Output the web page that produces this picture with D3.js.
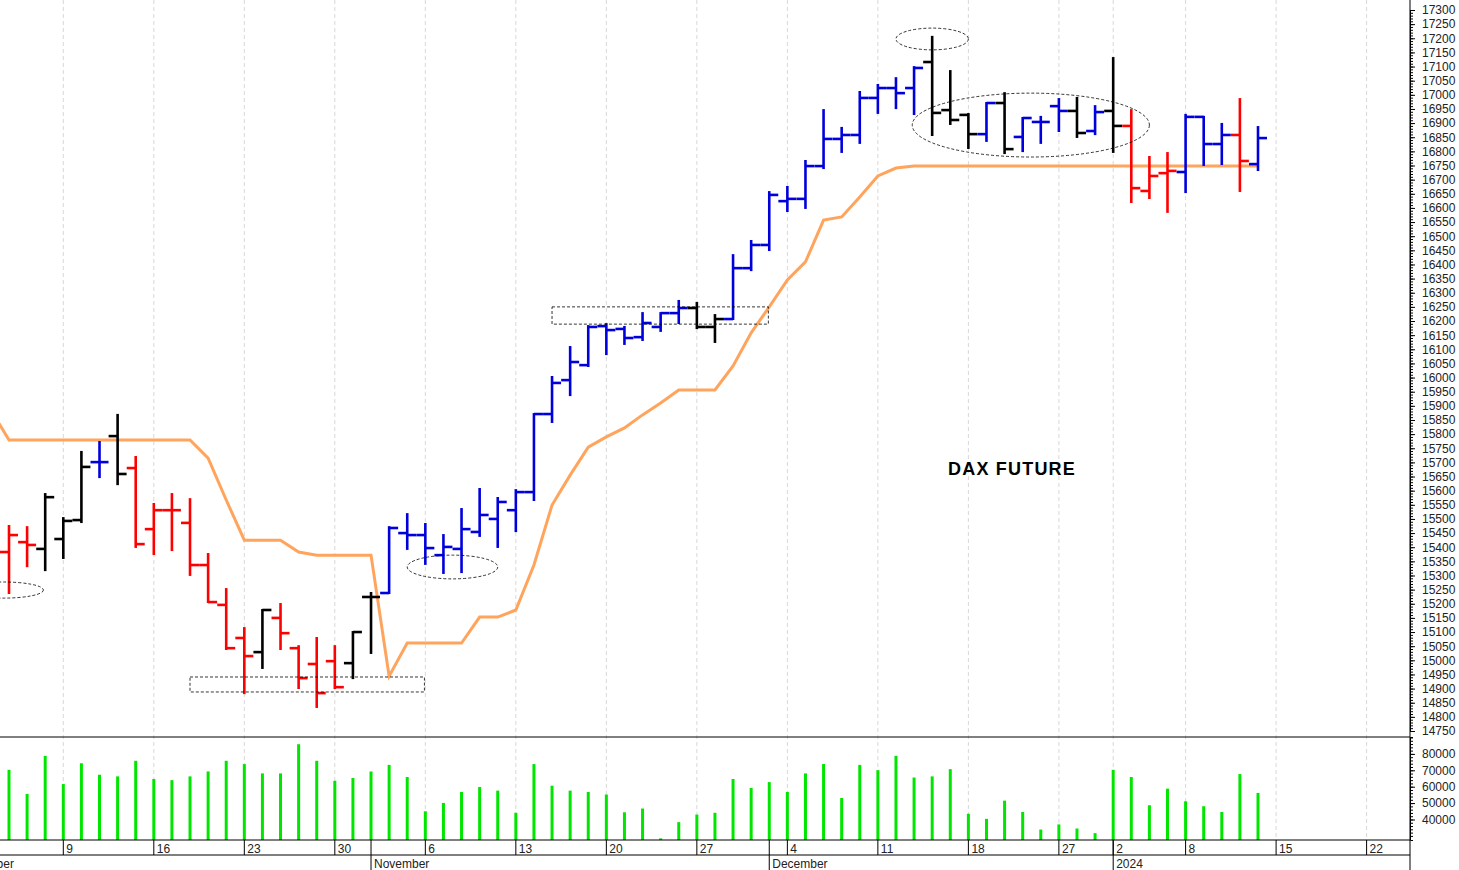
<!DOCTYPE html>
<html>
<head>
<meta charset="utf-8">
<script src="https://cdn.jsdelivr.net/npm/d3@7"></script>
<style>
  body { margin: 0; background: #fff; }
  text { font-family: "Liberation Sans", Arial, sans-serif; }
</style>
</head>
<body>
<svg id="chart" width="1459" height="870"></svg>
<script>
// trading days, Oct 4 2023 .. Jan 12 2024
const dates = ["2023-10-04","2023-10-05","2023-10-06","2023-10-09","2023-10-10","2023-10-11","2023-10-12","2023-10-13",
  "2023-10-16","2023-10-17","2023-10-18","2023-10-19","2023-10-20","2023-10-23","2023-10-24","2023-10-25","2023-10-26","2023-10-27",
  "2023-10-30","2023-10-31","2023-11-01","2023-11-02","2023-11-03","2023-11-06","2023-11-07","2023-11-08","2023-11-09","2023-11-10",
  "2023-11-13","2023-11-14","2023-11-15","2023-11-16","2023-11-17","2023-11-20","2023-11-21","2023-11-22","2023-11-23","2023-11-24",
  "2023-11-27","2023-11-28","2023-11-29","2023-11-30","2023-12-01","2023-12-04","2023-12-05","2023-12-06","2023-12-07","2023-12-08",
  "2023-12-11","2023-12-12","2023-12-13","2023-12-14","2023-12-15","2023-12-18","2023-12-19","2023-12-20","2023-12-21","2023-12-22",
  "2023-12-27","2023-12-28","2023-12-29","2024-01-02","2024-01-03","2024-01-04","2024-01-05","2024-01-08","2024-01-09","2024-01-10",
  "2024-01-11","2024-01-12"]
const open = [15383,15418,15394,15429,15496,15701,15793,15680,15464,15531,15486,15337,15196,15079,15029,15150,15043,14987,14997,14990,
  15224,15238,15450,15443,15372,15394,15454,15500,15531,15595,15871,15991,16044,16182,16172,16143,16179,16228,16246,16179,
  16207,16387,16469,16624,16632,16748,16844,16858,16989,17024,17024,17116,16946,16929,16861,16971,16851,16904,16960,16943,
  16872,16943,16890,16660,16723,16727,16922,16826,16858,16755]
const high = [15475,15471,15588,15503,15737,15772,15868,15719,15553,15588,15570,15376,15252,15114,15178,15199,15050,15079,15050,15100,
  15238,15471,15517,15482,15443,15535,15606,15574,15602,15871,16002,16108,16182,16189,16179,16228,16228,16271,16264,16221,
  16433,16483,16656,16674,16766,16946,16883,17010,17035,17059,17098,17205,17084,16932,16971,17006,16918,16922,16985,16989,
  16960,17130,16946,16780,16794,16929,16922,16897,16985,16886]
const low = [15238,15333,15319,15362,15489,15648,15623,15401,15376,15390,15302,15206,15040,14884,14973,15040,14902,14835,14902,14937,
  15026,15238,15394,15341,15309,15312,15440,15401,15457,15567,15843,15938,16041,16083,16119,16133,16165,16193,16175,16126,
  16207,16380,16451,16589,16600,16741,16798,16830,16936,16953,16932,16858,16897,16812,16837,16794,16801,16830,16872,16851,
  16861,16798,16621,16635,16586,16656,16752,16755,16660,16734]
const close = [15443,15408,15577,15493,15684,15701,15659,15411,15531,15531,15337,15206,15043,15015,15178,15096,14937,14884,14905,15100,
  15224,15468,15443,15397,15401,15464,15514,15560,15595,15871,15981,16055,16179,16168,16140,16193,16228,16246,16179,16207,
  16387,16469,16646,16632,16748,16844,16858,16989,17024,17006,17095,16936,16911,16861,16971,16808,16918,16904,16943,16865,
  16939,16890,16670,16713,16731,16922,16826,16858,16766,16847]
// bar colour state: r = red, b = blue, k = black
const signal = "rrkkkbkrrrrrrrkrrrrkkbbbbbbbbbbbbbbbbbkkbbbbbbbbbbbkkkbkbbbkbkrrrbbbrb".split("")
const stopPrev = 15885  // Oct 3, just left of the plot
const stop = [15779,15779,15779,15779,15779,15779,15779,15779,15779,15779,15779,15715,15567,15425,15425,15425,15383,15372,15372,15372,
  15372,14944,15061,15061,15061,15061,15153,15153,15178,15337,15549,15655,15754,15790,15822,15868,15910,15956,15956,15956,
  16041,16158,16250,16345,16409,16557,16568,16639,16713,16741,16748,16748,16748,16748,16748,16748,16748,16748,16748,16748,
  16748,16748,16748,16748,16748,16748,16748,16748,16748,16748]
const volume = [70300,55600,78800,61600,74300,67300,66300,75800,64700,64000,66300,69300,75800,73800,68100,68100,85900,75800,63600,65300,
  69300,73300,65900,45000,50100,56800,59800,57600,44100,73800,60600,57600,56800,55200,44400,46700,28500,38400,43000,44100,
  64700,59200,62800,56800,68100,73800,53100,73300,70100,78800,65600,66300,70700,43500,40400,51500,44600,33900,37000,34500,
  31700,70300,65900,48700,58800,51100,48100,44600,67700,56200]
// week ticks (bar index, 1-based) and labels
const weekIdx = [4,9,14,19,24,29,34,39,44,49,54,59,62,66,71,76]
const weekLab = ["9","16","23","30","6","13","20","27","4","11","18","27","2","8","15","22"]
const monthIdx = [-1.25,21,43,62]
const monthLab = ["October","November","December","2024"]
const priceTicks = d3.range(14750, 17301, 50)
const volTicks = [40000,50000,60000,70000,80000]
// annotations: bar-index span and price span
const ellipses = [[-1.5,2.9,15220,15277],[23,28,15288,15372],[50,54,17159,17236],[50.9,64,16780,17006]]
const boxes = [[11,23.95,14888,14941],[31,42.95,16189,16250]]

const svg = d3.select("#chart")
const W = 1410, priceBot = 737, volBot = 840
const x = d3.scaleLinear().domain([1, 70]).range([9, 1258])
const y = d3.scaleLinear().domain([14750, 17300]).range([731, 10])
const yv = d3.scaleLinear().domain([27500, 90300]).range([volBot, priceBot])
const colors = {r: "#ff0000", b: "#0000dd", k: "#000000"}

svg.append("defs").append("clipPath").attr("id", "plot")
  .append("rect").attr("width", W).attr("height", volBot)

// grid
svg.append("g").selectAll("line").data(weekIdx).join("line")
  .attr("x1", d => x(d)).attr("x2", d => x(d)).attr("y1", 0).attr("y2", volBot)
  .attr("stroke", "#d8d8d8").attr("stroke-dasharray", "4,3")

const plot = svg.append("g").attr("clip-path", "url(#plot)")

// stop line
const line = d3.line().x(d => x(d[0])).y(d => y(d[1]))
plot.append("path")
  .datum([[0, stopPrev]].concat(stop.map((s, i) => [i + 1, s])))
  .attr("d", line).attr("fill", "none").attr("stroke", "#ffa45c").attr("stroke-width", 3)

// OHLC bars
const bars = plot.append("g").selectAll("g").data(dates).join("g")
  .attr("stroke", (d, i) => colors[signal[i]]).attr("stroke-width", 2.6)
bars.append("line").attr("x1", (d, i) => x(i + 1)).attr("x2", (d, i) => x(i + 1))
  .attr("y1", (d, i) => y(high[i]) - 1).attr("y2", (d, i) => y(low[i]) + 1)
bars.append("line").attr("x1", (d, i) => x(i + 1) - 9).attr("x2", (d, i) => x(i + 1))
  .attr("y1", (d, i) => y(open[i])).attr("y2", (d, i) => y(open[i]))
bars.append("line").attr("x1", (d, i) => x(i + 1)).attr("x2", (d, i) => x(i + 1) + 9)
  .attr("y1", (d, i) => y(close[i])).attr("y2", (d, i) => y(close[i]))

// annotations
plot.append("g").selectAll("ellipse").data(ellipses).join("ellipse")
  .attr("cx", d => (x(d[0]) + x(d[1])) / 2).attr("cy", d => (y(d[2]) + y(d[3])) / 2)
  .attr("rx", d => (x(d[1]) - x(d[0])) / 2).attr("ry", d => (y(d[2]) - y(d[3])) / 2)
  .attr("fill", "none").attr("stroke", "#000").attr("stroke-width", 0.8).attr("stroke-dasharray", "3,2")
plot.append("g").selectAll("rect").data(boxes).join("rect")
  .attr("x", d => x(d[0])).attr("y", d => y(d[3]))
  .attr("width", d => x(d[1]) - x(d[0])).attr("height", d => y(d[2]) - y(d[3]))
  .attr("fill", "none").attr("stroke", "#000").attr("stroke-width", 0.8).attr("stroke-dasharray", "3,2")

svg.append("text").attr("x", 948).attr("y", 475).attr("font-size", 18).attr("font-weight", "bold")
  .attr("letter-spacing", 1.2).text("DAX FUTURE")

// volume
plot.append("g").selectAll("line").data(volume).join("line")
  .attr("x1", (d, i) => x(i + 1)).attr("x2", (d, i) => x(i + 1))
  .attr("y1", volBot).attr("y2", d => yv(d))
  .attr("stroke", "#00e600").attr("stroke-width", 3)

// pane borders
svg.append("line").attr("x1", 0).attr("x2", W).attr("y1", priceBot).attr("y2", priceBot).attr("stroke", "#000")
svg.append("line").attr("x1", 0).attr("x2", W).attr("y1", volBot).attr("y2", volBot).attr("stroke", "#000")
svg.append("line").attr("x1", 0).attr("x2", W).attr("y1", 855).attr("y2", 855).attr("stroke", "#000")
svg.append("line").attr("x1", W).attr("x2", W).attr("y1", 0).attr("y2", 870).attr("stroke", "#000")

// right axes
const pa = svg.append("g").attr("transform", `translate(${W},0)`)
  .call(d3.axisRight(y).tickValues(priceTicks).tickSize(5).tickFormat(d3.format("d")))
pa.append("g").call(d3.axisRight(y).tickValues(d3.range(14750, 17301, 10)).tickSize(3).tickFormat(""))
const va = svg.append("g").attr("transform", `translate(${W},0)`)
  .call(d3.axisRight(yv).tickValues(volTicks).tickSize(5).tickFormat(d3.format("d")))
va.append("g").call(d3.axisRight(yv).tickValues(d3.range(30000, 90001, 2000)).tickSize(3).tickFormat(""))
for (const g of [pa, va]) {
  g.select(".domain").remove()
  g.selectAll("text").attr("font-size", 12).attr("fill", "#222").attr("x", 12)
}

// date rows
const dr = svg.append("g")
dr.selectAll("line").data(weekIdx).join("line")
  .attr("x1", d => x(d)).attr("x2", d => x(d)).attr("y1", volBot).attr("y2", 855).attr("stroke", "#000")
dr.selectAll("text").data(weekIdx).join("text")
  .attr("x", d => x(d) + 3).attr("y", 853).attr("font-size", 12).attr("fill", "#222")
  .text((d, i) => weekLab[i])
const mr = svg.append("g")
mr.selectAll("line").data(monthIdx).join("line")
  .attr("x1", d => x(d)).attr("x2", d => x(d)).attr("y1", volBot).attr("y2", 870).attr("stroke", "#000")
mr.selectAll("text").data(monthIdx).join("text")
  .attr("x", d => x(d) + 3).attr("y", 868).attr("font-size", 12).attr("fill", "#222")
  .text((d, i) => monthLab[i])
</script>
</body>
</html>
